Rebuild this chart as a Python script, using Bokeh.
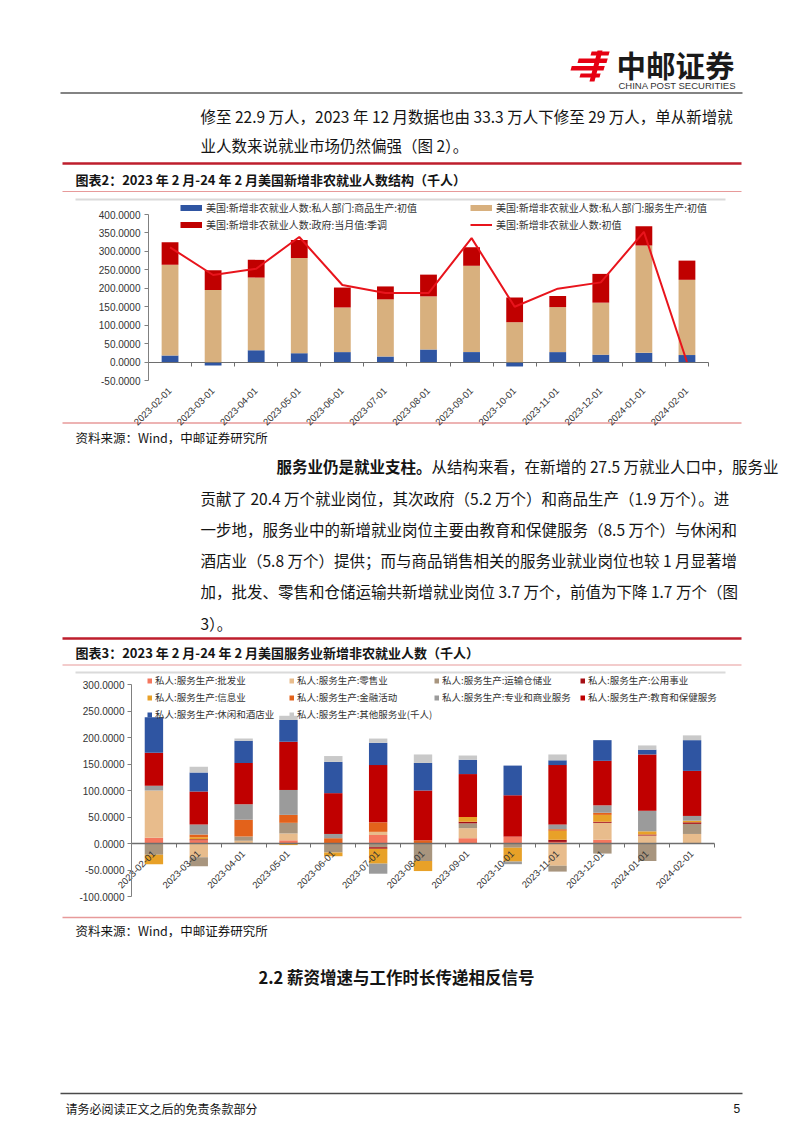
import numpy as np
from bokeh.plotting import figure
from bokeh.models import Range1d, FixedTicker, NumeralTickFormatter, LinearAxis, Legend, LegendItem
from bokeh.embed import file_html
from bokeh.resources import INLINE
from bokeh.core.properties import value

# ---------------- data ----------------
months = ["2023-02-01", "2023-03-01", "2023-04-01", "2023-05-01", "2023-06-01", "2023-07-01",
          "2023-08-01", "2023-09-01", "2023-10-01", "2023-11-01", "2023-12-01", "2024-01-01", "2024-02-01"]

# 图表2 (thousands)
goods_initial = [18, -9, 32, 24, 27, 15, 34, 27, -12, 27, 20, 25, 19]
services_initial = [246, 195, 197, 258, 121, 155, 144, 234, 108, 122, 141, 291, 204]
government_sa = [61, 54, 48, 49, 54, 35, 59, 50, 67, 30, 78, 52, 52]
total_initial = [311, 236, 253, 339, 209, 187, 187, 336, 150, 199, 216, 353, 0]
chart1_yticks = [-50, 0, 50, 100, 150, 200, 250, 300, 350, 400]
chart1_names = ["美国:新增非农就业人数:私人部门:商品生产:初值",
                "美国:新增非农就业人数:私人部门:服务生产:初值",
                "美国:新增非农就业人数:政府:当月值:季调",
                "美国:新增非农就业人数:初值"]

# 图表3 (thousands)
wholesale = [11, 6, 0, 6, 0, 16, 0, 10, 13, 3, 7, 0, 0]
retail = [89, -26, 5, 13, 0, 6, 0, 19, 0, -42, 32, 15, 18]
transport_warehousing = [-21, -17, 8, 20, -17, -7, -33, 9, -8, -11, -19, -33, 19]
utilities = [0, 2, 0, 0, 0, -3, 0, 3, 0, 4, 2, 2, 3]
information = [-18, 4, 0, -3, -7, -28, -19, 9, -26, 17, 13, 6, 3]
financial = [0, 5, 32, 15, 10, 18, 6, 0, 0, 3, 4, 0, 0]
professional_business = [9, 19, 29, 47, 8, -19, 0, 0, -5, 9, 14, 39, 9]
education_health = [62, 62, 78, 91, 77, 108, 94, 81, 78, 112, 84, 106, 85]
leisure_hospitality = [67, 36, 42, 41, 59, 42, 52, 27, 56, 9, 39, 9, 58]
other_services = [0, 11, 4, 8, 11, 8, 16, 8, 0, 11, 0, 8, 9]
chart2_yticks = [-100, -50, 0, 50, 100, 150, 200, 250, 300]
chart2_names = ["私人:服务生产:批发业", "私人:服务生产:零售业", "私人:服务生产:运输仓储业",
                "私人:服务生产:公用事业", "私人:服务生产:信息业", "私人:服务生产:金融活动",
                "私人:服务生产:专业和商业服务", "私人:服务生产:教育和保健服务",
                "私人:服务生产:休闲和酒店业", "私人:服务生产:其他服务业(千人)"]

# ---------------- page text ----------------
body_top = ["修至 22.9 万人，2023 年 12 月数据也由 33.3 万人下修至 29 万人，单从新增就",
            "业人数来说就业市场仍然偏强（图 2）。"]
title2 = "图表2：2023 年 2 月-24 年 2 月美国新增非农就业人数结构（千人）"
title3 = "图表3：2023 年 2 月-24 年 2 月美国服务业新增非农就业人数（千人）"
source = "资料来源：Wind，中邮证券研究所"
para_bold = "服务业仍是就业支柱。"
para_lines = ["从结构来看，在新增的 27.5 万就业人口中，服务业",
              "贡献了 20.4 万个就业岗位，其次政府（5.2 万个）和商品生产（1.9 万个）。进",
              "一步地，服务业中的新增就业岗位主要由教育和保健服务（8.5 万个）与休闲和",
              "酒店业（5.8 万个）提供；而与商品销售相关的服务业就业岗位也较 1 月显著增",
              "加，批发、零售和仓储运输共新增就业岗位 3.7 万个，前值为下降 1.7 万个（图",
              "3）。"]
heading = "2.2 薪资增速与工作时长传递相反信号"
footer = "请务必阅读正文之后的免责条款部分"
page_no = "5"

# ---------------- style ----------------
FW, FH = 800, 1130
CJK = "Noto Sans CJK SC"
LAT = "Liberation Sans"
TXT = "#141414"
RED_RULE = "#BE1E2D"
PINK_RULE = "#E79A9A"
GRAY_RULE = "#DADADA"
AX = "#808080"
C_GOODS, C_SERV, C_GOV, C_LINE = "#2F55A2", "#D8B07E", "#C00000", "#E8141C"
C2 = ["#F4775E", "#E8BC8C", "#A8957E", "#A50F15", "#E8A128", "#E3621B",
      "#9B9B9B", "#C00000", "#2F55A2", "#C9C9C9"]
BODY = 15.5

n = len(months)
xc = np.arange(n)
bounds = list(np.arange(n + 1) - 0.5)


def stack_ranges(series):
    pos = np.zeros(n)
    neg = np.zeros(n)
    out = []
    for s in series:
        s = np.asarray(s, float)
        b = np.where(s >= 0, pos, neg)
        t = b + s
        pos = np.where(s >= 0, t, pos)
        neg = np.where(s < 0, t, neg)
        out.append((b, t))
    return out


def xrange_for(v0, px0, v1, px1):
    s = (px1 - px0) / (v1 - v0)
    return Range1d(v0 - px0 / s, v1 + (FW - px1) / s)


def yrange_for(v0, py0, v1, py1):
    # v0 at pixel py0 (lower value, larger pixel), v1 at py1
    s = (py0 - py1) / (v1 - v0)
    return Range1d(v0 - (FH - py0) / s, v1 + py1 / s)


# one page-sized figure; default ranges are page pixels (y down)
p = figure(width=FW, height=FH, x_range=Range1d(0, FW), y_range=Range1d(FH, 0),
           x_axis_type=None, y_axis_type=None, output_backend="svg",
           toolbar_location=None, min_border=0, outline_line_color=None)
p.extra_x_ranges = {"c1x": xrange_for(-0.5, 148, n - 0.5, 708),
                    "c2x": xrange_for(-0.5, 131, n - 0.5, 714)}
p.extra_y_ranges = {"c1y": yrange_for(-50, 380, 400, 214),
                    "c2y": yrange_for(-100, 896, 300, 684)}


def text(x, y, s, size, bold=False, color=TXT, align="left", font=CJK):
    p.text(x=[x], y=[y], text=[s], text_font=value(font), text_font_size=f"{size}px",
           text_font_style="bold" if bold else "normal", text_color=color,
           text_align=align, text_baseline="middle")


def hline(x0, x1, y, color, w):
    p.segment(x0=[x0], y0=[y], x1=[x1], y1=[y], line_color=color, line_width=w)


# ---------------- header ----------------
sk = 0.28
bars = [(590, 608, 51, 55), (577, 606, 58, 62.5), (570, 603, 65.5, 70), (579, 599, 73, 77)]
xs, ys = [], []
for x0, x1, y0, y1 in bars:
    xs.append([x0 + sk * (y1 - y0), x1 + sk * (y1 - y0), x1, x0])
    ys.append([y0, y0, y1, y1])
xs.append([597, 602, 594, 589])
ys.append([50, 50, 81, 81])
p.patches(xs, ys, fill_color="#E60012", line_color=None)
text(616, 63.5, "中邮证券", 29.5, bold=True, color="#1A1A1A")
text(618, 85, "CHINA POST SECURITIES", 9.5, color="#333333", font=LAT)
hline(60, 742, 92.5, "#5A5A5A", 1.5)
text(200, 115, body_top[0], BODY)
text(200, 144, body_top[1], BODY)
hline(62, 741, 163, RED_RULE, 2.5)
text(75, 179, title2, 13, bold=True)
hline(62, 741, 191, PINK_RULE, 1.2)
hline(75, 725, 199, GRAY_RULE, 2)

# ---------------- chart 1 ----------------
K1 = dict(x_range_name="c1x", y_range_name="c1y")
for (b, t), c in zip(stack_ranges([goods_initial, services_initial, government_sa]),
                     [C_GOODS, C_SERV, C_GOV]):
    p.vbar(x=xc, bottom=b, top=t, width=0.39, fill_color=c, line_color=None, **K1)
ln = p.line(xc, total_initial, line_color=C_LINE, line_width=2, **K1)

p.add_layout(LinearAxis(fixed_location=-0.5, bounds=(-50, 400),
                        ticker=FixedTicker(ticks=chart1_yticks),
                        formatter=NumeralTickFormatter(format="0.0000"),
                        axis_line_color=AX, major_tick_line_color=AX, major_tick_out=4,
                        major_tick_in=0, minor_tick_line_color=None, major_label_standoff=4,
                        major_label_text_font=LAT, major_label_text_font_size="10px",
                        major_label_text_color="#333333", **K1), "left")
p.add_layout(LinearAxis(fixed_location=0, bounds=(-0.5, n - 0.5),
                        ticker=FixedTicker(ticks=[], minor_ticks=bounds),
                        axis_line_color="#6E6E6E", axis_line_width=1.2, major_tick_line_color=None,
                        minor_tick_line_color="#6E6E6E", minor_tick_out=4, minor_tick_in=0,
                        major_label_text_font_size="0px", **K1), "below")
p.add_layout(LinearAxis(fixed_location=-50, bounds=(-0.5, n - 0.5),
                        ticker=FixedTicker(ticks=list(xc)),
                        major_label_overrides={int(i): d for i, d in zip(xc, months)},
                        major_label_orientation=np.pi / 4, axis_line_color=None,
                        major_tick_line_color=None, minor_tick_line_color=None,
                        major_label_standoff=3, major_label_text_font=LAT,
                        major_label_text_font_size="9.5px", major_label_text_color="#333333",
                        **K1), "below")

# legend proxies (single point -> nothing drawn on the chart)
prox = [p.line(x=[0], y=[0], line_color=c, line_width=6, **K1) for c in [C_GOODS, C_SERV, C_GOV]]
leg_kw = dict(orientation="vertical", glyph_width=22, glyph_height=17, label_height=17,
              label_standoff=4, spacing=0, padding=0, margin=0, border_line_color=None,
              background_fill_alpha=0, label_text_font=CJK, label_text_font_size="10px",
              label_text_color="#333333")
p.add_layout(Legend(items=[LegendItem(label=chart1_names[0], renderers=[prox[0]]),
                           LegendItem(label=chart1_names[2], renderers=[prox[2]])],
                    location=(180, FH - 232.5), **leg_kw))
p.add_layout(Legend(items=[LegendItem(label=chart1_names[1], renderers=[prox[1]]),
                           LegendItem(label=chart1_names[3], renderers=[ln])],
                    location=(470, FH - 232.5), **leg_kw))

# ---------------- middle text ----------------
hline(62, 741, 422.5, PINK_RULE, 1.5)
text(75, 437, source, 12.5)
text(276, 465, para_bold, BODY, bold=True)
text(276 + BODY * len(para_bold), 465, para_lines[0], BODY)
for k, line in enumerate(para_lines[1:]):
    text(200, 497 + k * 31.3, line, BODY)
hline(62, 741, 638, RED_RULE, 2.5)
text(75, 652, title3, 13, bold=True)
hline(62, 741, 664.5, PINK_RULE, 1.2)
hline(75, 725, 672, GRAY_RULE, 2)

# ---------------- chart 2 ----------------
K2 = dict(x_range_name="c2x", y_range_name="c2y")
series2 = [wholesale, retail, transport_warehousing, utilities, information, financial,
           professional_business, education_health, leisure_hospitality, other_services]
for (b, t), c in zip(stack_ranges(series2), C2):
    p.vbar(x=xc, bottom=b, top=t, width=0.41, fill_color=c, line_color=None, **K2)

p.add_layout(LinearAxis(fixed_location=-0.5, bounds=(-100, 300),
                        ticker=FixedTicker(ticks=chart2_yticks),
                        formatter=NumeralTickFormatter(format="0.0000"),
                        axis_line_color=AX, major_tick_line_color=AX, major_tick_out=4,
                        major_tick_in=0, minor_tick_line_color=None, major_label_standoff=3,
                        major_label_text_font=LAT, major_label_text_font_size="10px",
                        major_label_text_color="#333333", **K2), "left")
p.add_layout(LinearAxis(fixed_location=0, bounds=(-0.5, n - 0.5),
                        ticker=FixedTicker(ticks=list(xc), minor_ticks=bounds),
                        major_label_overrides={int(i): d for i, d in zip(xc, months)},
                        major_label_orientation=np.pi / 4, axis_line_color="#6E6E6E",
                        axis_line_width=1.5, major_tick_line_color=None,
                        minor_tick_line_color="#6E6E6E", minor_tick_out=4, minor_tick_in=0,
                        major_label_standoff=3, major_label_text_font=LAT,
                        major_label_text_font_size="9.5px", major_label_text_color="#333333",
                        **K2), "below")

prox2 = [p.line(x=[0], y=[0], line_color=c, line_width=5, **K2) for c in C2]
leg2_kw = dict(orientation="vertical", glyph_width=5, glyph_height=17, label_height=17,
               label_standoff=3, spacing=0, padding=0, margin=0, border_line_color=None,
               background_fill_alpha=0, label_text_font=CJK, label_text_font_size="9.5px",
               label_text_color="#333333")
cols = [([0, 4, 8], 147, 722.5), ([1, 5, 9], 289, 722.5), ([2, 6], 434, 705.5), ([3, 7], 580, 705.5)]
for idx, vx, bottom in cols:
    p.add_layout(Legend(items=[LegendItem(label=chart2_names[i], renderers=[prox2[i]]) for i in idx],
                        location=(vx, FH - bottom), **leg2_kw))

# ---------------- bottom ----------------
hline(62, 741, 917, PINK_RULE, 1.5)
text(75, 930, source, 12.5)
text(396, 976, heading, 16.5, bold=True, align="center")
hline(60, 742, 1093, "#4A4A4A", 1.5)
text(65, 1108, footer, 12)
text(733, 1108, page_no, 12, font=LAT)

open("out.html", "w").write(file_html(p, INLINE))
